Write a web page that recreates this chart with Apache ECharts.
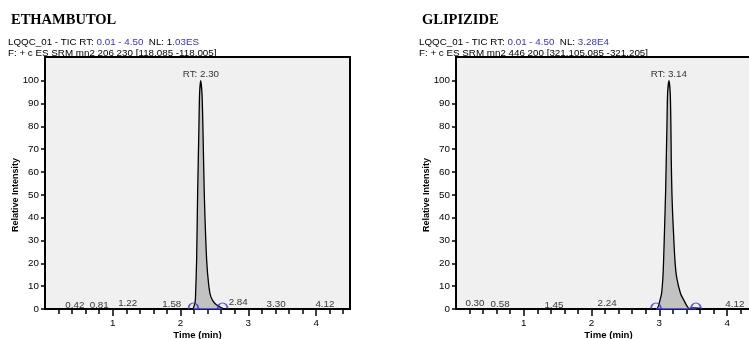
<!DOCTYPE html>
<html>
<head>
<meta charset="utf-8">
<script src="https://cdn.jsdelivr.net/npm/echarts@6/dist/echarts.min.js"></script>
<style>
html, body { margin: 0; padding: 0; background: #fff; }
#main { width: 749px; height: 339px; }
</style>
</head>
<body>
<div id="main"></div>
<script>
// ETHAMBUTOL trace: time (min) / relative intensity (%)
const ethTime = [2.187, 2.215, 2.222, 2.237, 2.252, 2.271, 2.281, 2.297, 2.316, 2.33, 2.35, 2.385, 2.419, 2.448, 2.507, 2.581, 2.63];
const ethIntensity = [0.2, 3, 6.7, 21.4, 50.6, 79.8, 94.5, 100, 94.5, 79.8, 50.6, 21.4, 9.6, 5.3, 2.4, 0.9, 0.2];
const ethApex = [2.30, 100];
const ethRtLabel = 'RT: 2.30';
const ethIntegration = [2.19, 2.62];
const ethNoiseTime = [0.44, 0.80, 1.22, 1.87, 2.85, 3.41, 4.13];
const ethNoiseHeight = [1.5, 1.5, 2.4, 2.1, 3.1, 2.1, 2.1];
const ethNoiseLabels = ['0.42', '0.81', '1.22', '1.58', '2.84', '3.30', '4.12'];

// GLIPIZIDE trace
const gliTime = [2.97, 2.99, 3.009, 3.033, 3.053, 3.063, 3.078, 3.092, 3.102, 3.112, 3.122, 3.142, 3.161, 3.171, 3.176, 3.186, 3.196, 3.205, 3.23, 3.255, 3.314, 3.363, 3.402, 3.44, 3.5, 3.62];
const gliIntensity = [0.2, 1.6, 3.8, 6.7, 14, 21.4, 36, 50.6, 65.2, 79.8, 94.5, 100, 94.5, 79.8, 65.2, 50.6, 41.8, 36, 21.4, 14, 6.7, 3.8, 1.6, 0.2, 0.5, 0.3];
const gliApex = [3.14, 100];
const gliRtLabel = 'RT: 3.14';
const gliIntegration = [2.95, 3.54];
const gliNoiseTime = [0.28, 0.65, 1.445, 2.23, 4.115];
const gliNoiseHeight = [2.6, 2.1, 1.75, 2.6, 2.1];
const gliNoiseLabels = ['0.30', '0.58', '1.45', '2.24', '4.12'];

// axes
const xTickLabels = [1, 2, 3, 4];
const xMinorTicks = [0.2, 0.4, 0.6, 0.8, 1.2, 1.4, 1.6, 1.8, 2.2, 2.4, 2.6, 2.8, 3.2, 3.4, 3.6, 3.8, 4.2, 4.4];
const yTickLabels = [0, 10, 20, 30, 40, 50, 60, 70, 80, 90, 100];

const SANS = '"Liberation Sans", Arial, sans-serif';
const SERIF = '"Liberation Serif", "Times New Roman", serif';
const BLUE = '#3434c8';
const INK = '#000';
const FS = 9.8;

const panels = [
  {
    left: 45, title: 'ETHAMBUTOL',
    line1: '{k|LQQC_01 - TIC RT: }{b|0.01 - 4.50}{k|  NL: 1}{b|.03ES}',
    line2: 'F: + c ES SRM mn2 206 230 [118.085 -118.005]',
    time: ethTime, intensity: ethIntensity, apex: ethApex, rt: ethRtLabel,
    integ: ethIntegration, nT: ethNoiseTime, nH: ethNoiseHeight, nL: ethNoiseLabels
  },
  {
    left: 456, title: 'GLIPIZIDE',
    line1: '{k|LQQC_01 - TIC RT: }{b|0.01 - 4.50}{k|  NL: }{b|3.28E4}',
    line2: 'F: + c ES SRM mn2 446 200 [321.105.085 -321.205]',
    time: gliTime, intensity: gliIntensity, apex: gliApex, rt: gliRtLabel,
    integ: gliIntegration, nT: gliNoiseTime, nH: gliNoiseHeight, nL: gliNoiseLabels
  }
];

const grid = [], xAxis = [], yAxis = [], series = [], graphic = [];

panels.forEach((p, i) => {
  grid.push({
    left: p.left, top: 57, width: 305, height: 252,
    outerBoundsMode: 'none', containLabel: false,
    show: true, backgroundColor: '#f0f0f0', borderColor: '#000', borderWidth: 2
  });
  xAxis.push({
    gridIndex: i, type: 'value', position: 'bottom', min: 0, max: 4.5, interval: 1,
    axisLine: {show: true, onZero: false, lineStyle: {color: '#000', width: 2}},
    axisTick: {show: true, length: 7, customValues: xTickLabels, lineStyle: {color: '#000', width: 1.5}},
    axisLabel: {customValues: xTickLabels, margin: 9, fontSize: FS, color: INK, fontFamily: SANS},
    splitLine: {show: false},
    name: 'Time (min)', nameLocation: 'middle', nameGap: 21, nameMoveOverlap: false,
    nameTextStyle: {fontSize: 9.6, fontWeight: 'bold', color: INK, fontFamily: SANS}
  });
  xAxis.push({
    gridIndex: i, type: 'value', position: 'bottom', min: 0, max: 4.5,
    axisLine: {show: false},
    axisTick: {show: true, length: 5, customValues: xMinorTicks, lineStyle: {color: '#000', width: 1.5}},
    axisLabel: {show: false},
    splitLine: {show: false}
  });
  yAxis.push({
    gridIndex: i, type: 'value', min: 0, max: 110.4,
    axisLine: {show: true, lineStyle: {color: '#000', width: 2}},
    axisTick: {show: true, length: 4, customValues: yTickLabels, lineStyle: {color: '#000', width: 1.5}},
    axisLabel: {customValues: yTickLabels, margin: 6, fontSize: FS, color: INK, fontFamily: SANS},
    splitLine: {show: false}
  });

  const xi = i * 2;
  series.push({
    type: 'line', xAxisIndex: xi, yAxisIndex: i,
    data: p.time.map((t, k) => [t, p.intensity[k]]),
    showSymbol: false, smooth: 0.25,
    lineStyle: {color: '#000', width: 1.3},
    areaStyle: {color: '#c2c2c2', opacity: 1},
    z: 3, silent: true
  });
  series.push({
    type: 'line', xAxisIndex: xi, yAxisIndex: i,
    data: p.integ.map(t => [t, 0]),
    showSymbol: false, lineStyle: {color: BLUE, width: 1.6}, z: 4, silent: true
  });
  series.push({
    type: 'scatter', xAxisIndex: xi, yAxisIndex: i,
    data: p.integ.map(t => [t, 0]),
    symbol: 'path://M0,10 C0,-3 10,-3 10,10', symbolSize: [10, 6], symbolOffset: [0, -3],
    itemStyle: {color: 'rgba(0,0,0,0)', borderColor: BLUE, borderWidth: 1.5},
    z: 5, silent: true
  });
  series.push({
    type: 'scatter', xAxisIndex: xi, yAxisIndex: i,
    data: p.nT.map((t, k) => [t, p.nH[k], p.nL[k]]),
    symbolSize: 1, itemStyle: {color: 'rgba(0,0,0,0)'},
    label: {show: true, position: 'inside', formatter: q => q.data[2],
      fontSize: FS, color: INK, fontFamily: SANS},
    z: 6, silent: true
  });
  series.push({
    type: 'scatter', xAxisIndex: xi, yAxisIndex: i,
    data: [p.apex],
    symbolSize: 1, itemStyle: {color: 'rgba(0,0,0,0)'},
    label: {show: true, position: 'top', distance: 1, formatter: p.rt,
      fontSize: FS, color: INK, fontFamily: SANS},
    z: 6, silent: true
  });

  graphic.push({
    type: 'text', x: p.left - 34, y: 20,
    style: {text: p.title, font: 'bold 14.5px ' + SERIF, fill: '#000', verticalAlign: 'middle'}
  });
  graphic.push({
    type: 'text', x: p.left - 37, y: 42,
    style: {text: p.line1, font: FS + 'px ' + SANS, fill: INK, verticalAlign: 'middle',
      rich: {k: {fill: INK, font: FS + 'px ' + SANS}, b: {fill: BLUE, font: FS + 'px ' + SANS}}}
  });
  graphic.push({
    type: 'text', x: p.left - 37, y: 53, z: -1,
    style: {text: p.line2, font: FS + 'px ' + SANS, fill: INK, verticalAlign: 'middle'}
  });
  graphic.push({
    type: 'text', x: p.left - 29.5, y: 195, rotation: Math.PI / 2,
    style: {text: 'Relative Intensity', font: 'bold 9px ' + SANS, fill: INK,
      align: 'center', verticalAlign: 'middle'}
  });
});

const chart = echarts.init(document.getElementById('main'), null, {renderer: 'canvas'});
chart.setOption({
  animation: false,
  backgroundColor: '#fff',
  grid, xAxis, yAxis, series, graphic
});
</script>
</body>
</html>
